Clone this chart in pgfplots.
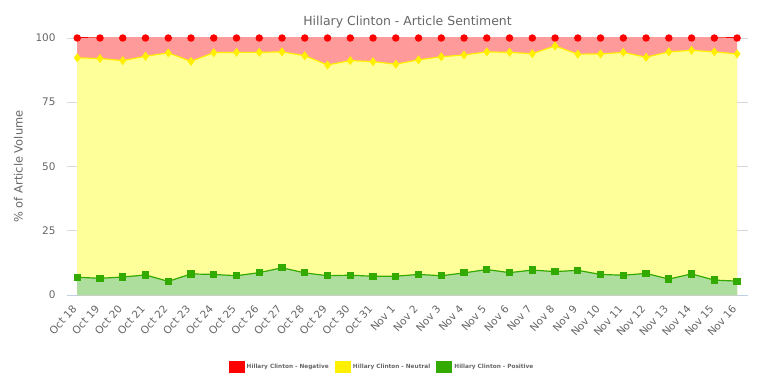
\documentclass[border=0pt]{standalone}
\usepackage{fontspec}
\setmainfont{DejaVu Sans}
\usepackage{pgfplots}
\usepackage{pgfplotstable}
\pgfplotsset{compat=1.18}
\definecolor{negline}{HTML}{FF0000}
\definecolor{negfill}{HTML}{FF9A9A}
\definecolor{neuline}{HTML}{FFF000}
\definecolor{neufill}{HTML}{FFFF99}
\definecolor{posline}{HTML}{33AA00}
\definecolor{posfill}{HTML}{AEDE9E}
\definecolor{txtgray}{HTML}{666666}
\definecolor{gridgray}{HTML}{D8D8D8}
\definecolor{axisblue}{HTML}{C0D0E0}
\pgfplotstableread{
x neg neu pos
0 100 92.3 6.9
1 100 92.0 6.5
2 100 91.2 7.0
3 100 92.9 7.8
4 100 94.2 5.3
5 100 90.9 8.2
6 100 94.3 8.0
7 100 94.4 7.5
8 100 94.4 8.7
9 100 94.6 10.6
10 100 93.1 8.6
11 100 89.5 7.5
12 100 91.2 7.7
13 100 90.8 7.3
14 100 89.8 7.3
15 100 91.5 8.0
16 100 92.7 7.5
17 100 93.4 8.6
18 100 94.6 9.9
19 100 94.4 8.7
20 100 93.9 9.7
21 100 96.9 9.1
22 100 93.7 9.6
23 100 93.8 8.0
24 100 94.4 7.7
25 100 92.5 8.4
26 100 94.6 6.2
27 100 95.2 8.2
28 100 94.6 5.8
29 100 93.8 5.4
}\datatable
\begin{document}
\begin{tikzpicture}
\path[use as bounding box] (-67bp,-91bp) rectangle (705bp,295bp);
\begin{axis}[
  at={(0,0)}, anchor=south west,
  scale only axis, width=681bp, height=257bp,
  xmin=-0.45, xmax=29.48, ymin=0, ymax=100,
  clip=false,
  axis x line*=bottom,
  axis y line*=left,
  x axis line style={draw=axisblue, line width=0.8pt, -},
  y axis line style={draw=none, -},
  ytick={0,25,50,75,100},
  ymajorgrids, grid style={gridgray, line width=0.6pt},
  xtick={0,...,29},
  xticklabels={Oct 18,Oct 19,Oct 20,Oct 21,Oct 22,Oct 23,Oct 24,Oct 25,Oct 26,Oct 27,Oct 28,Oct 29,Oct 30,Oct 31,Nov 1,Nov 2,Nov 3,Nov 4,Nov 5,Nov 6,Nov 7,Nov 8,Nov 9,Nov 10,Nov 11,Nov 12,Nov 13,Nov 14,Nov 15,Nov 16},
  major tick length=0pt,
  /pgf/number format/assume math mode=true,
  tick label style={font=\fontsize{10.5}{12}\selectfont, text=txtgray},
  xticklabel style={anchor=east, inner sep=1pt, xshift=-2bp, yshift=-11bp, rotate=48},
  yticklabel style={xshift=-8bp},
  ylabel={\% of Article Volume},
  ylabel style={font=\fontsize{11.5}{13}\selectfont, text=txtgray, yshift=6bp},
  title={Hillary Clinton - Article Sentiment},
  title style={font=\fontsize{12.5}{14}\selectfont, text=txtgray, yshift=0bp},
  legend style={at={(0.4626,-0.28)}, anchor=center, draw=none, fill=none,
    font=\bfseries\fontsize{5.8}{7}\selectfont, text=txtgray, legend columns=3,
    /tikz/every even column/.append style={column sep=4bp}},
  legend image code/.code={\fill (0bp,-5.5bp) rectangle (15bp,5.5bp);},
]
\addplot[draw=none, fill=negfill, forget plot] table[x=x,y=neg]{\datatable} \closedcycle;
\addplot[draw=none, fill=neufill, forget plot] table[x=x,y=neu]{\datatable} \closedcycle;
\addplot[draw=none, fill=posfill, forget plot] table[x=x,y=pos]{\datatable} \closedcycle;
\addplot[color=negline, line width=1pt, mark=*, mark size=3.2bp, mark options={fill=negline, draw=negline}] table[x=x,y=neg]{\datatable};
\addlegendentry{Hillary Clinton - Negative}
\addplot[color=neuline, line width=1.2pt, mark=diamond*, mark size=3.6bp, mark options={fill=neuline, draw=neuline}] table[x=x,y=neu]{\datatable};
\addlegendentry{Hillary Clinton - Neutral}
\addplot[color=posline, line width=1.2pt, mark=square*, mark size=3bp, mark options={fill=posline, draw=posline}] table[x=x,y=pos]{\datatable};
\addlegendentry{Hillary Clinton - Positive}
\end{axis}
\end{tikzpicture}
\end{document}
